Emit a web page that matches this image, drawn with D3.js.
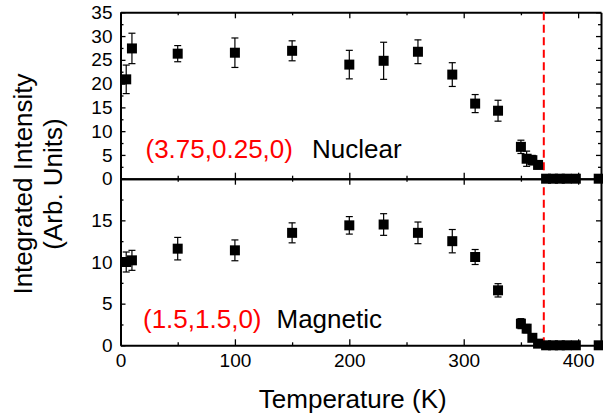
<!DOCTYPE html>
<html>
<head>
<meta charset="utf-8">
<script src="https://cdn.jsdelivr.net/npm/d3@7"></script>
<style>
  body { margin: 0; background: #fff; }
  svg { display: block; font-family: "Liberation Sans", Arial, sans-serif; }
</style>
</head>
<body>
<svg id="chart" width="603" height="416"></svg>
<script>
// ---- data ----
const temps = [5, 10, 50, 100, 150, 200, 230, 260, 290, 310, 330, 350, 355, 360, 365, 372, 378, 384, 390, 398, 418];
const nuclear = [20.9, 27.4, 26.3, 26.5, 26.9, 24.0, 24.8, 26.7, 21.9, 15.8, 14.3, 6.7, 4.2, 3.9, 2.9, 0, 0, 0, 0, 0, 0];
const nuclearErr = [3.0, 3.2, 1.7, 3.1, 2.1, 3.0, 3.9, 2.5, 2.5, 1.9, 2.2, 1.4, 1.6, 1.0, 0.8, 0, 0, 0, 0, 0, 0];
const magnetic = [10.0, 10.2, 11.6, 11.4, 13.5, 14.4, 14.5, 13.5, 12.5, 10.6, 6.6, 2.6, 2.0, 0.9, 0.2, 0, 0, 0, 0, 0, 0];
const magneticErr = [1.2, 1.2, 1.35, 1.25, 1.2, 1.05, 1.3, 1.3, 1.4, 0.9, 0.8, 0.6, 0.5, 0.4, 0.2, 0, 0, 0, 0, 0, 0];
const xTicks = [0, 100, 200, 300, 400];
const xMinor = [50, 150, 250, 350];
const topYTicks = [0, 5, 10, 15, 20, 25, 30, 35];
const botYTicks = [0, 5, 10, 15];
const transitionT = 370;
const topLabel = ["(3.75,0.25,0)", "Nuclear"];
const botLabel = ["(1.5,1.5,0)", "Magnetic"];
const xTitle = "Temperature (K)";
const yTitle = ["Integrated Intensity", "(Arb. Units)"];

// ---- layout ----
const svg = d3.select("#chart");
const L = 120.5, R = 601, T = 12.3, M = 178.7, B = 345.3;
const x = d3.scaleLinear().domain([0, 420]).range([L, R]);
const yTop = d3.scaleLinear().domain([0, 35]).range([M, T]);
const yBot = d3.scaleLinear().domain([0, 20]).range([B, M]);

const fontTick = 19;
function styleAxis(g, showLabels) {
  g.select(".domain").attr("stroke", "#000").attr("stroke-width", 2);
  g.selectAll(".tick line").attr("stroke", "#000").attr("stroke-width", 1.3);
  g.selectAll(".tick text").attr("font-size", fontTick).attr("fill", "#000")
    .attr("font-family", "Liberation Sans, Arial, sans-serif");
  if (!showLabels) g.selectAll(".tick text").remove();
}

function panel(yS, majors, minors, labelTicks) {
  // left
  const gl = svg.append("g").attr("transform", `translate(${L},0)`)
    .call(d3.axisLeft(yS).tickValues(majors).tickSize(-5).tickPadding(8).tickSizeOuter(0));
  styleAxis(gl, true);
  gl.selectAll(".tick").filter(d => !labelTicks.includes(d)).select("text").remove();
  svg.append("g").attr("transform", `translate(${L},0)`)
    .call(d3.axisLeft(yS).tickValues(minors).tickSize(-3).tickFormat("").tickSizeOuter(0))
    .call(g => { styleAxis(g, false); g.select(".domain").remove(); });
  // right
  const gr = svg.append("g").attr("transform", `translate(${R},0)`)
    .call(d3.axisRight(yS).tickValues(majors).tickSize(-5).tickFormat("").tickSizeOuter(0));
  styleAxis(gr, false);
  svg.append("g").attr("transform", `translate(${R},0)`)
    .call(d3.axisRight(yS).tickValues(minors).tickSize(-3).tickFormat("").tickSizeOuter(0))
    .call(g => { styleAxis(g, false); g.select(".domain").remove(); });
}

panel(yTop, [0, 5, 10, 15, 20, 25, 30, 35], [2.5, 7.5, 12.5, 17.5, 22.5, 27.5, 32.5], topYTicks);
panel(yBot, [0, 5, 10, 15, 20], [2.5, 7.5, 12.5, 17.5], botYTicks);

// horizontal axes
function hAxis(y, dir, labels) {
  const maker = dir === "up" ? d3.axisBottom : d3.axisTop;
  const g = svg.append("g").attr("transform", `translate(0,${y})`)
    .call(maker(x).tickValues(xTicks).tickSize(-6).tickPadding(8).tickSizeOuter(0));
  styleAxis(g, labels);
  svg.append("g").attr("transform", `translate(0,${y})`)
    .call(maker(x).tickValues(xMinor).tickSize(-3).tickFormat("").tickSizeOuter(0))
    .call(gg => { styleAxis(gg, false); gg.select(".domain").remove(); });
}
hAxis(T, "down", false);      // top frame, ticks inward
hAxis(M, "up", false);        // top panel bottom, ticks up
hAxis(M, "down", false);      // bottom panel top, ticks down
hAxis(B, "up", true);         // bottom axis with labels

// dashed transition line
svg.append("line")
  .attr("x1", x(transitionT)).attr("x2", x(transitionT))
  .attr("y1", T).attr("y2", B)
  .attr("stroke", "#ff0000").attr("stroke-width", 2)
  .attr("stroke-dasharray", "8,4.5");

// data
function series(vals, errs, yS) {
  const g = svg.append("g");
  const data = temps.map((t, i) => ({ t, v: vals[i], e: errs[i] }));
  const eb = data.filter(d => d.e > 0);
  g.selectAll("line.eb").data(eb).join("line")
    .attr("x1", d => x(d.t)).attr("x2", d => x(d.t))
    .attr("y1", d => yS(d.v - d.e)).attr("y2", d => yS(d.v + d.e))
    .attr("stroke", "#000").attr("stroke-width", 1.2);
  ["lo", "hi"].forEach(k => {
    g.selectAll("line.cap" + k).data(eb).join("line")
      .attr("x1", d => x(d.t) - 3.5).attr("x2", d => x(d.t) + 3.5)
      .attr("y1", d => yS(k === "lo" ? d.v - d.e : d.v + d.e))
      .attr("y2", d => yS(k === "lo" ? d.v - d.e : d.v + d.e))
      .attr("stroke", "#000").attr("stroke-width", 1.2);
  });
  g.selectAll("path.pt").data(data).join("path")
    .attr("transform", d => `translate(${x(d.t)},${yS(d.v)})`)
    .attr("d", d3.symbol().type(d3.symbolSquare).size(100)())
    .attr("fill", "#000");
}
series(nuclear, nuclearErr, yTop);
series(magnetic, magneticErr, yBot);

// annotations
svg.append("text").attr("x", 145.5).attr("y", 158).attr("font-size", 26).attr("fill", "#ff0000").text(topLabel[0]);
svg.append("text").attr("x", 312).attr("y", 158).attr("font-size", 26).attr("fill", "#000").text(topLabel[1]);
svg.append("text").attr("x", 143).attr("y", 328).attr("font-size", 26).attr("fill", "#ff0000").text(botLabel[0]);
svg.append("text").attr("x", 276.5).attr("y", 328).attr("font-size", 26).attr("fill", "#000").text(botLabel[1]);

// axis titles
svg.append("text").attr("x", (L + R) / 2 - 8).attr("y", 408).attr("text-anchor", "middle")
  .attr("font-size", 26).attr("fill", "#000").text(xTitle);
svg.append("text").attr("transform", "translate(32,184) rotate(-90)").attr("text-anchor", "middle")
  .attr("font-size", 26).attr("fill", "#000").text(yTitle[0]);
svg.append("text").attr("transform", "translate(62,184) rotate(-90)").attr("text-anchor", "middle")
  .attr("font-size", 26).attr("fill", "#000").text(yTitle[1]);
</script>
</body>
</html>
